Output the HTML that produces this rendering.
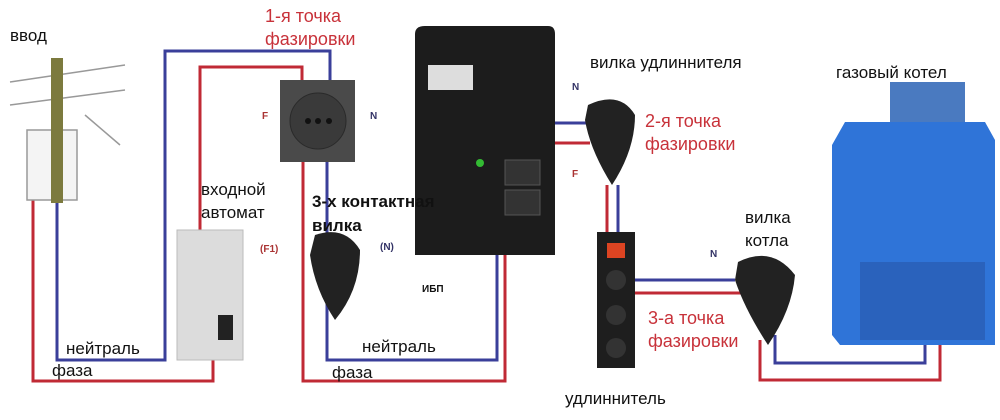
<!DOCTYPE html>
<html><head><meta charset="utf-8"><style>
body{margin:0;width:1000px;height:420px;background:#fff;overflow:hidden;position:relative;font-family:"Liberation Sans",sans-serif}
.t{position:absolute;font-size:17px;color:#111;white-space:nowrap;line-height:1}
.r{color:#c8323a;font-size:18px}
.s{font-size:10px;font-weight:bold}
</style></head><body>
<svg width="1000" height="420" style="position:absolute;left:0;top:0">
<g fill="none" stroke-width="3">
<polyline points="57,200 57,360 165,360 165,51 330,51 330,80" stroke="#3a3f9a"/>
<polyline points="33,200 33,381 213,381 213,360" stroke="#c02a35"/>
<polyline points="200,230 200,67 302,67 302,80" stroke="#c02a35"/>
<polyline points="327,162 327,360 497,360 497,250" stroke="#3a3f9a"/>
<polyline points="303,162 303,381 505,381 505,250" stroke="#c02a35"/>
<polyline points="497,123 590,123" stroke="#3a3f9a"/>
<polyline points="520,143 590,143" stroke="#c02a35"/>
<polyline points="607,185 607,232" stroke="#c02a35"/>
<polyline points="618,185 618,232" stroke="#3a3f9a"/>
<polyline points="635,280 735,280" stroke="#3a3f9a"/>
<polyline points="635,293 745,293" stroke="#c02a35"/>
<polyline points="775,335 775,363 925,363 925,345" stroke="#3a3f9a"/>
<polyline points="760,340 760,380 940,380 940,345" stroke="#c02a35"/>
</g>
<g stroke="#999" stroke-width="1.5" fill="none">
<line x1="10" y1="82" x2="125" y2="65"/><line x1="10" y1="105" x2="125" y2="90"/>
<line x1="85" y1="115" x2="120" y2="145"/>
<rect x="27" y="130" width="50" height="70" fill="#f4f4f4"/>
</g>
<rect x="51" y="58" width="12" height="145" fill="#7c7a3e"/>
<rect x="280" y="80" width="75" height="82" fill="#4a4a4a"/>
<circle cx="318" cy="121" r="28" fill="#3a3a3a" stroke="#2a2a2a"/>
<circle cx="308" cy="121" r="3" fill="#111"/><circle cx="318" cy="121" r="3" fill="#111"/><circle cx="329" cy="121" r="3" fill="#111"/>
<rect x="177" y="230" width="66" height="130" fill="#dcdcdc" stroke="#bbb"/>
<rect x="218" y="315" width="15" height="25" fill="#222"/>
<path d="M315,235 Q345,225 360,250 Q360,290 335,320 Q315,290 310,255Z" fill="#222"/>
<path d="M415,255 L415,34 Q415,26 425,26 L548,26 Q555,26 555,34 L555,255Z" fill="#1c1c1c"/>
<rect x="428" y="65" width="45" height="25" fill="#ddd"/>
<rect x="505" y="160" width="35" height="25" fill="#333" stroke="#555"/>
<rect x="505" y="190" width="35" height="25" fill="#333" stroke="#555"/>
<circle cx="480" cy="163" r="4" fill="#3b3"/>
<path d="M588,105 Q620,90 635,115 Q635,150 612,185 Q590,150 585,120Z" fill="#222"/>
<rect x="597" y="232" width="38" height="136" fill="#1e1e1e"/>
<rect x="607" y="243" width="18" height="15" fill="#d42"/>
<circle cx="616" cy="280" r="10" fill="#333"/><circle cx="616" cy="315" r="10" fill="#333"/><circle cx="616" cy="348" r="10" fill="#333"/>
<path d="M738,262 Q772,245 795,275 Q792,310 768,345 Q745,310 735,280Z" fill="#222"/>
<rect x="890" y="82" width="75" height="40" fill="#4a7ac0"/>
<path d="M832,145 L845,122 L985,122 L995,140 L995,345 L840,345 L832,335Z" fill="#2f74d8"/>
<rect x="860" y="262" width="125" height="78" fill="#2a62bc"/>
</svg>
<div class="t" style="left:10px;top:27px">ввод</div>
<div class="t r" style="left:265px;top:7px">1-я точка</div>
<div class="t r" style="left:265px;top:30px">фазировки</div>
<div class="t s" style="left:262px;top:112px;color:#a33">F</div>
<div class="t s" style="left:370px;top:112px;color:#336">N</div>
<div class="t" style="left:201px;top:181px">входной</div>
<div class="t" style="left:201px;top:204px">автомат</div>
<div class="t" style="left:312px;top:193px;font-weight:bold">3-х контактная</div>
<div class="t" style="left:312px;top:217px;font-weight:bold">вилка</div>
<div class="t s" style="left:260px;top:245px;color:#a33">(F1)</div>
<div class="t s" style="left:380px;top:243px;color:#336">(N)</div>
<div class="t s" style="left:422px;top:285px">ИБП</div>
<div class="t" style="left:66px;top:340px">нейтраль</div>
<div class="t" style="left:52px;top:362px">фаза</div>
<div class="t" style="left:362px;top:338px">нейтраль</div>
<div class="t" style="left:332px;top:364px">фаза</div>
<div class="t" style="left:590px;top:54px">вилка удлиннителя</div>
<div class="t s" style="left:572px;top:83px;color:#336">N</div>
<div class="t r" style="left:645px;top:112px">2-я точка</div>
<div class="t r" style="left:645px;top:135px">фазировки</div>
<div class="t s" style="left:572px;top:170px;color:#a33">F</div>
<div class="t" style="left:836px;top:64px">газовый котел</div>
<div class="t" style="left:745px;top:209px">вилка</div>
<div class="t" style="left:745px;top:232px">котла</div>
<div class="t s" style="left:710px;top:250px;color:#336">N</div>
<div class="t r" style="left:648px;top:309px">3-а точка</div>
<div class="t r" style="left:648px;top:332px">фазировки</div>
<div class="t" style="left:565px;top:390px">удлиннитель</div>
</body></html>
